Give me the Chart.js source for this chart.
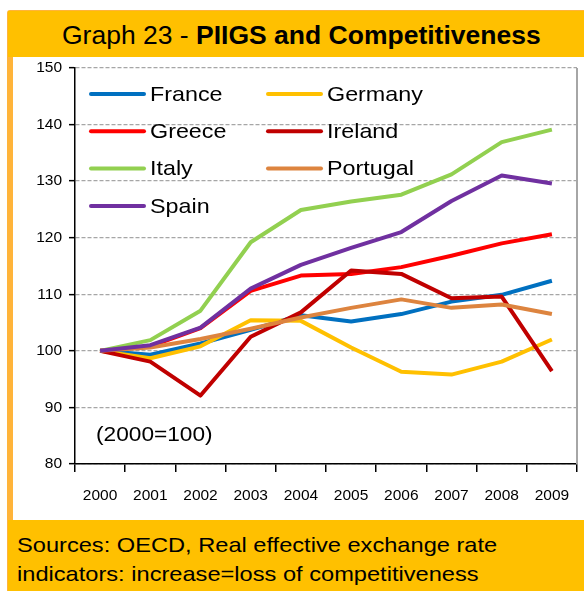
<!DOCTYPE html>
<html>
<head>
<meta charset="utf-8">
<script src="https://cdn.jsdelivr.net/npm/chart.js@4"></script>
<style>
  html, body { margin: 0; padding: 0; width: 584px; height: 591px; overflow: hidden; background: #fff; }
  body { position: relative; font-family: "Liberation Sans", Arial, sans-serif; }
  .frame { position: absolute; left: 7px; top: 10px; width: 600px; height: 600px; background: #FFB43A; border-top-left-radius: 3px; }
  .header { position: absolute; left: 8px; top: 11px; width: 576px; height: 46px; background: #FFC000; }
  .header span { position: absolute; left: 54px; top: 1px; white-space: nowrap; line-height: 46px; font-size: 25px; color: #000;
                 transform: scaleX(1.06); transform-origin: left center; }
  .plot { position: absolute; left: 13px; top: 57px; width: 600px; height: 463px; background: #fff; }
  .footer { position: absolute; left: 8px; top: 520px; width: 600px; height: 80px; background: #FFC000; }
  .footer div { position: absolute; left: 9px; top: 10px; white-space: nowrap; font-size: 21px; line-height: 29px; color: #000;
                transform: scaleX(1.125); transform-origin: left top; }
  canvas { position: absolute; left: 0; top: 0; }
</style>
</head>
<body>
<div class="frame"></div>
<div class="header"><span>Graph 23 - <b>PIIGS and Competitiveness</b></span></div>
<div class="plot"></div>
<div class="footer"><div>Sources: OECD, Real effective exchange rate<br>indicators: increase=loss of competitiveness</div></div>
<canvas id="chart" width="584" height="591"></canvas>
<script>
// data (2000=100)
const years = ['2000', '2001', '2002', '2003', '2004', '2005', '2006', '2007', '2008', '2009'];
const france   = [100, 99.3, 101.3, 103.7, 106.3, 105.2, 106.5, 108.7, 109.9, 112.4];
const germany  = [100, 98.7, 100.8, 105.4, 105.3, 100.6, 96.3, 95.8, 98.1, 102.0];
const greece   = [100, 100.8, 104.0, 110.6, 113.3, 113.6, 114.8, 116.8, 119.0, 120.6];
const ireland  = [100, 98.1, 92.1, 102.5, 106.8, 114.2, 113.6, 109.3, 109.6, 96.4];
const italy    = [100, 101.9, 107.1, 119.2, 124.9, 126.4, 127.6, 131.2, 136.9, 139.1];
const portugal = [100, 100.6, 102.1, 103.9, 105.9, 107.6, 109.1, 107.6, 108.2, 106.5];
const spain    = [100, 101.0, 104.1, 111.0, 115.2, 118.2, 121.0, 126.5, 131.0, 129.6];
const yTicks   = [80, 90, 100, 110, 120, 130, 140, 150];

const names  = ['France', 'Germany', 'Greece', 'Ireland', 'Italy', 'Portugal', 'Spain'];
const series = [france, germany, greece, ireland, italy, portugal, spain];
const colors = ['#0070C0', '#FFC000', '#FF0000', '#C00000', '#92D050', '#DD843F', '#7030A0'];

const FONT = '"Liberation Sans", Arial, sans-serif';

// text in the original is a little wide, so stretch it horizontally
function wideText(ctx, str, x, y, sx) {
  ctx.save();
  ctx.translate(x, y);
  ctx.scale(sx, 1);
  ctx.fillText(str, 0, 0);
  ctx.restore();
}

// legend drawn inside the plot, two columns
const innerLegend = {
  id: 'innerLegend',
  afterDatasetsDraw(chart) {
    const { ctx, chartArea } = chart;
    ctx.save();
    ctx.font = '21px ' + FONT;
    ctx.textBaseline = 'middle';
    ctx.fillStyle = '#000';
    chart.data.datasets.forEach((ds, i) => {
      const col = i % 2, row = Math.floor(i / 2);
      const x = chartArea.left + 16 + col * 177;
      const y = chartArea.top + 26 + row * 37.3;
      ctx.strokeStyle = ds.borderColor;
      ctx.lineWidth = 4;
      ctx.lineCap = 'round';
      ctx.beginPath();
      ctx.moveTo(x, y);
      ctx.lineTo(x + 53, y);
      ctx.stroke();
      wideText(ctx, ds.label, x + 59, y + 1, 1.11);
    });
    wideText(ctx, '(2000=100)', chartArea.left + 21, chartArea.bottom - 29, 1.08);
    // right edge of the plot
    ctx.strokeStyle = '#A6A6A6';
    ctx.lineWidth = 2;
    ctx.lineCap = 'butt';
    ctx.beginPath();
    ctx.moveTo(chartArea.right, chartArea.top);
    ctx.lineTo(chartArea.right, chartArea.bottom);
    ctx.stroke();
    ctx.restore();
  }
};

new Chart(document.getElementById('chart'), {
  type: 'line',
  data: {
    labels: years,
    datasets: names.map((n, i) => ({
      label: n,
      data: series[i],
      borderColor: colors[i],
      backgroundColor: colors[i],
      borderWidth: 4,
      pointRadius: 0,
      tension: 0,
      borderJoinStyle: 'round',
      order: names.length - i
    }))
  },
  options: {
    responsive: false,
    animation: false,
    layout: { padding: { left: 0, right: 7, top: 68, bottom: 82 } },
    plugins: { legend: { display: false }, tooltip: { enabled: false }, title: { display: false } },
    scales: {
      x: {
        offset: true,
        afterFit: s => { s.height = 45; },
        grid: { drawOnChartArea: false, offset: true, tickLength: 8, color: '#000', tickColor: '#000', lineWidth: 1.5 },
        border: { color: '#000', width: 1.5 },
        ticks: { color: '#000', font: { family: FONT, size: 15.5 }, padding: 14, maxRotation: 0 }
      },
      y: {
        min: 80,
        max: 150,
        afterFit: s => { s.width = 75; },
        afterBuildTicks: s => { s.ticks = yTicks.map(v => ({ value: v })); },
        grid: { color: '#A6A6A6', lineWidth: 1.3, tickLength: 6, tickColor: '#000', tickWidth: 1.5, tickBorderDash: [] },
        border: { color: '#000', width: 1.5, dash: [4, 2] },
        ticks: { color: '#000', font: { family: FONT, size: 15.5 }, padding: 7 }
      }
    }
  },
  plugins: [innerLegend]
});
</script>
</body>
</html>
